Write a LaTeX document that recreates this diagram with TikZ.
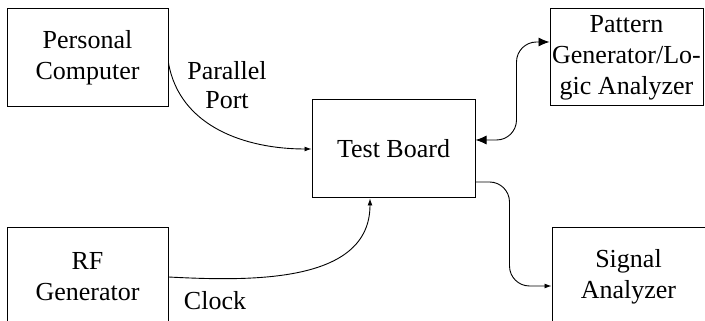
\documentclass[tikz,border=0pt]{standalone}
\usepackage{fontspec}
\setmainfont{Liberation Serif}
\usetikzlibrary{arrows.meta,positioning}

\begin{document}
\begin{tikzpicture}[x=1pt,y=1pt,
unit/.style={draw=black,line width=1pt,minimum width=161pt,minimum height=98pt,align=center,inner sep=0pt,font=\fontsize{26}{31}\selectfont},
lbl/.style={align=center,inner sep=0pt,font=\fontsize{26}{29}\selectfont},
arr/.style={-{Latex[length=7pt,width=5pt]},line width=0.9pt},
dbl/.style={{Latex[length=11pt,width=9pt]}-{Latex[length=11pt,width=9pt]},line width=0.9pt,rounded corners=20pt}
]
\useasboundingbox (0,0) rectangle (705,321);
% Instruments around the board
\node[unit] (pc) at (87.5,263) {Personal\\Computer};
\node[unit,minimum width=163pt] (tb) at (393.5,172) {Test Board};
\node[unit,minimum width=153pt,minimum height=97pt] (pg) at (626.5,263.5) {Pattern\\Generator/Lo-\\gic Analyzer};
\node[unit] (rf) at (87.5,44) {RF\\Generator};
\node[unit,minimum width=153pt] (sa) at (628.5,44) {Signal\\Analyzer};
\node[lbl] (port) at (227,236) {Parallel\\Port};
\node[lbl] (clk) at (215,20) {Clock};
% Connections
\draw[arr] ([yshift=-5pt]pc.east) to[out=-80,in=180] (tb.west);
\draw[arr] (rf.east) to[out=-3,in=-90] ([xshift=-23.5pt]tb.south);
\draw[dbl] ([yshift=9pt]tb.east) -| ([xshift=-33pt,yshift=15.5pt]pg.west) -- ([yshift=15.5pt]pg.west);
\draw[arr,rounded corners=20pt] ([yshift=-33pt]tb.east) -| ([xshift=-42pt,yshift=-9pt]sa.west) -- ([yshift=-9pt]sa.west);
\end{tikzpicture}
\end{document}
